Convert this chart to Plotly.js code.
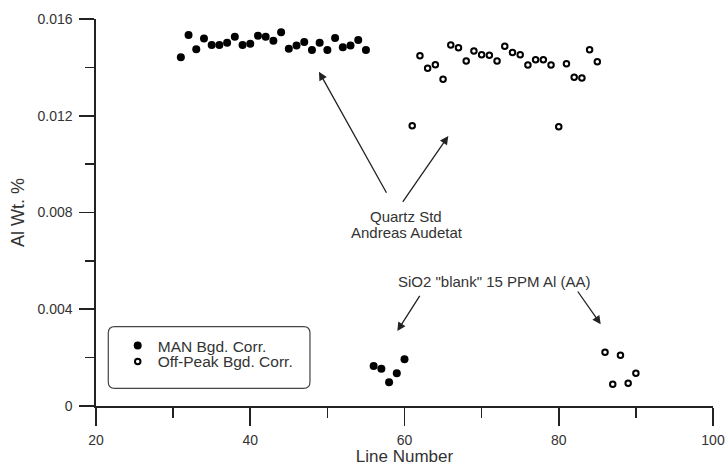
<!DOCTYPE html>
<html>
<head>
<meta charset="utf-8">
<script src="https://cdn.plot.ly/plotly-3.0.1.min.js"></script>
<style>
html,body{margin:0;padding:0;background:#fff;}
#chart{width:726px;height:466px;}
</style>
</head>
<body>
<div id="chart"></div>
<script>
// MAN background-corrected points (filled)
const manX = [31,32,33,34,35,36,37,38,39,40,41,42,43,44,45,46,47,48,49,50,51,52,53,54,55,56,57,58,59,60];
const manY = [0.01442,0.01534,0.01475,0.01519,0.01493,0.01493,0.01502,0.01527,0.01493,0.01498,
              0.01531,0.01527,0.01510,0.01545,0.01477,0.01490,0.01505,0.01472,0.01502,0.01472,
              0.01521,0.01483,0.01490,0.01513,0.01472,0.00165,0.00154,0.00098,0.00135,0.00193];
// Off-peak background-corrected points (open)
const offX = [61,62,63,64,65,66,67,68,69,70,71,72,73,74,75,76,77,78,79,80,81,82,83,84,85,86,87,88,89,90];
const offY = [0.01159,0.01448,0.01396,0.01411,0.01351,0.01493,0.01481,0.01426,0.01468,0.01452,
              0.01450,0.01426,0.01487,0.01462,0.01452,0.01410,0.01432,0.01432,0.01410,0.01155,
              0.01415,0.01359,0.01356,0.01473,0.01423,0.00222,0.00090,0.00210,0.00094,0.00135];
const seriesNames = ["MAN Bgd. Corr.", "Off-Peak Bgd. Corr."];
const yTickVals = [0, 0.004, 0.008, 0.012, 0.016];
const yTickText = ["0", "0.004", "0.008", "0.012", "0.016"];
const xTickVals = [20, 40, 60, 80, 100];
const xTickText = ["20", "40", "60", "80", "100"];

const FONT = "Liberation Sans, Arial, Helvetica, sans-serif";
const INK = "#222";
const TXT = "#333";

const traces = [
  {x: manX, y: manY, type: "scatter", mode: "markers", name: seriesNames[0], legend: "legend",
   marker: {symbol: "circle", size: 8, color: "#000", line: {width: 0}}},
  {x: offX, y: offY, type: "scatter", mode: "markers", name: seriesNames[1], legend: "legend2",
   marker: {symbol: "circle-open", size: 5.5, color: "#000", line: {width: 2, color: "#000"}}}
];

// rounded legend frame in paper coords
function roundRect(x0, y0, x1, y1, rx, ry) {
  return `M${x0+rx},${y0} L${x1-rx},${y0} Q${x1},${y0} ${x1},${y0+ry} L${x1},${y1-ry} Q${x1},${y1} ${x1-rx},${y1} ` +
         `L${x0+rx},${y1} Q${x0},${y1} ${x0},${y1-ry} L${x0},${y0+ry} Q${x0},${y0} ${x0+rx},${y0} Z`;
}

function arrow(hx, hy, tx, ty) {
  return {x: hx, y: hy, ax: tx, ay: ty, xref: "x", yref: "y", axref: "x", ayref: "y",
          text: "", showarrow: true, arrowhead: 2, arrowsize: 1.3, arrowwidth: 1.3,
          arrowcolor: INK, standoff: 0, startstandoff: 0};
}
function label(t, x, y) {
  return {x: x, y: y, xref: "x", yref: "y", text: t, showarrow: false,
          font: {family: FONT, size: 15, color: TXT}, xanchor: "center", yanchor: "middle"};
}

const layout = {
  width: 726, height: 466,
  margin: {l: 96, r: 13, t: 19, b: 60},
  paper_bgcolor: "#fff", plot_bgcolor: "#fff",
  font: {family: FONT, color: TXT},
  xaxis: {
    range: [20, 100], tickvals: xTickVals, ticktext: xTickText,
    showgrid: false, zeroline: false, showline: true, linecolor: INK, linewidth: 1.6,
    ticks: "outside", ticklen: 18, tickwidth: 1.6, tickcolor: INK, ticklabelstandoff: 3,
    tickfont: {family: FONT, size: 14, color: TXT},
    minor: {dtick: 10, tick0: 20, ticks: "outside", ticklen: 10, tickwidth: 1.6, tickcolor: INK, showgrid: false},
    title: {text: "Line Number", font: {family: FONT, size: 17, color: TXT}, standoff: 6},
    fixedrange: true
  },
  yaxis: {
    range: [0, 0.016], tickvals: yTickVals, ticktext: yTickText,
    showgrid: false, zeroline: false, showline: true, linecolor: INK, linewidth: 1.6,
    ticks: "outside", ticklen: 15, tickwidth: 1.6, tickcolor: INK, ticklabelstandoff: 4,
    tickfont: {family: FONT, size: 14, color: TXT},
    minor: {dtick: 0.002, tick0: 0, ticks: "outside", ticklen: 9, tickwidth: 1.6, tickcolor: INK, showgrid: false},
    title: {text: "Al Wt. %", font: {family: FONT, size: 18, color: TXT}, standoff: 8},
    fixedrange: true
  },
  showlegend: true,
  legend: {x: 0.0352, y: 0.199, xanchor: "left", yanchor: "top", bgcolor: "rgba(0,0,0,0)",
           borderwidth: 0, font: {family: FONT, size: 15.5, color: TXT}},
  legend2: {x: 0.0352, y: 0.158, xanchor: "left", yanchor: "top", bgcolor: "rgba(0,0,0,0)",
            borderwidth: 0, font: {family: FONT, size: 15.5, color: TXT}},
  shapes: [{type: "path", xref: "paper", yref: "paper",
            path: roundRect(0.0199, 0.0457, 0.3468, 0.2049, 0.0105, 0.0165),
            line: {color: "#444", width: 1.2}, fillcolor: "rgba(0,0,0,0)"}],
  annotations: [
    arrow(48.91, 0.013821, 57.77, 0.008753),
    arrow(65.68, 0.011163, 59.64, 0.008380),
    arrow(59.07, 0.003101, 62.10, 0.004618),
    arrow(85.44, 0.003378, 82.33, 0.004796),
    label("Quartz Std", 60.16, 0.007855),
    label("Andreas Audetat", 60.29, 0.007165),
    label('SiO2 "blank" 15 PPM Al (AA)', 71.61, 0.005139)
  ]
};

Plotly.newPlot("chart", traces, layout, {displayModeBar: false, staticPlot: true});
</script>
</body>
</html>
